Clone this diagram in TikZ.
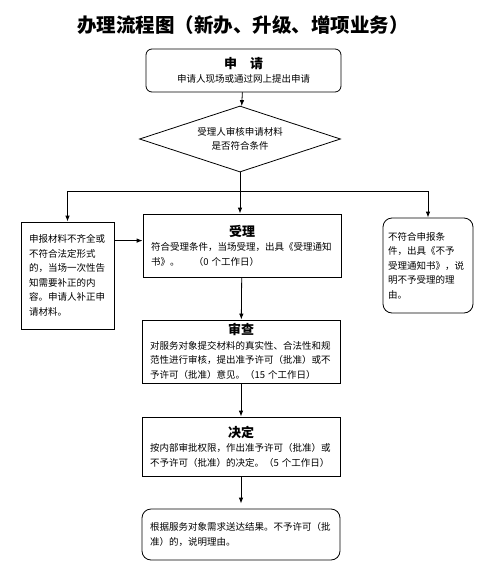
\documentclass[tikz,border=0pt]{standalone}
\usepackage{fontspec}
\setmainfont{Noto Sans CJK SC}
\usetikzlibrary{shapes.geometric,arrows.meta}
\newcommand{\boxhead}[1]{\makebox[\hsize]{\bfseries\fontsize{13}{16}\selectfont #1}}

\begin{document}
\begin{tikzpicture}[x=1pt,y=-1pt]
	\tikzset{every node/.style={font=\fontsize{9.5}{14.5}\selectfont}}
	\tikzset{procbox/.style={draw,line width=0.8pt,inner xsep=8pt,inner ysep=3pt,text width=182pt,align=left}}
	\tikzset{roundbox/.style={procbox,rounded corners=9pt}}
	\tikzset{checkbox/.style={draw,line width=0.8pt,diamond,aspect=3,inner sep=0pt,minimum width=201pt,minimum height=66pt,align=center}}
	\tikzset{arr/.style={line width=0.8pt,-{Latex[length=6pt,width=4.5pt]}}}
	\useasboundingbox (0,0) rectangle (495,565);
	\node[font=\fontsize{19.5}{22}\selectfont\bfseries] (title) at (243,25) {办理流程图（新办、升级、增项业务）};
	\node[roundbox,rounded corners=6pt,text width=179pt,align=center,minimum height=43pt] (apply) at (243.5,70.5) {\boxhead{申\quad 请}\\申请人现场或通过网上提出申请};
	\node[checkbox] (chk) at (240,139) {受理人审核申请材料\\是否符合条件};
	\coordinate (split) at (240,191);
	\node[procbox,text width=77pt,minimum height=107pt] (lack) at (67.5,275.5) {申报材料不齐全或\\不符合法定形式\\的，当场一次性告\\知需要补正的内\\容。申请人补正申\\请材料。};
	\node[procbox,minimum height=63pt] (accept) at (242,245.5) {\boxhead{受理}\\符合受理条件，当场受理，出具《受理通知\\书》。\hspace{1.5em}（0 个工作日）};
	\node[roundbox,text width=80pt,inner xsep=5pt,minimum height=95pt] (refuse) at (428,265.5) {不符合申报条\\件，出具《不予\\受理通知书》，说\\明不予受理的理\\由。};
	\node[procbox,minimum height=63pt] (review) at (241,351.5) {\boxhead{审查}\\对服务对象提交材料的真实性、合法性和规\\范性进行审核，提出准予许可（批准）或不\\予许可（批准）意见。（15 个工作日）};
	\node[procbox,minimum height=59pt] (decide) at (241,446.5) {\boxhead{决定}\\按内部审批权限，作出准予许可（批准）或\\不予许可（批准）的决定。（5 个工作日）};
	\node[roundbox,minimum height=51pt] (result) at (241,534.5) {根据服务对象需求送达结果。不予许可（批\\准）的，说明理由。};
	% connectors
	\draw[arr] (apply) -- (chk);
	\draw[line width=0.8pt] (chk.south) -- (split);
	\draw[arr] (split) -| (lack.north);
	\draw[arr] (split) -| (refuse.north);
	\draw[arr] (split) -- (split |- accept.north);
	\draw[arr] ([yshift=-19pt]lack.north east) coordinate (lk) -- (lk -| accept.west);
	\draw[arr] (accept) -- (review);
	\draw[arr] (review) -- (decide);
	\draw[arr] (decide.south) -- ([yshift=5pt]result.north);
\end{tikzpicture}
\end{document}
